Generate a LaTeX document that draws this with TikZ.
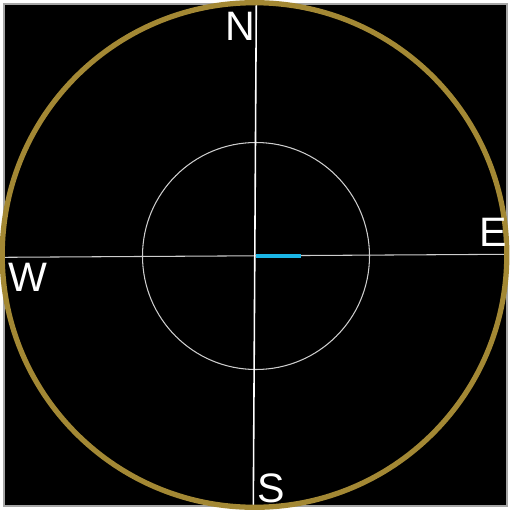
\documentclass[tikz,border=0pt]{standalone}
\usepackage{fontspec}
\setmainfont{Liberation Sans}
\usepackage{xcolor}
\usetikzlibrary{calc, positioning}
\definecolor{DialGold}{RGB}{163, 136, 52}
\definecolor{DialBlue}{RGB}{27, 182, 230}
\definecolor{DialGrey}{RGB}{205, 205, 205}

\begin{document}
\begin{tikzpicture}[x=0.01cm, y=-0.01cm,
    every node/.style={font=\fontsize{11.7}{14}\selectfont, text=white, inner sep=0pt}]
          \useasboundingbox (0,0) rectangle (512,512);
          \fill[black, draw=gray!70, line width=0.3pt] (4,4) rectangle (507,506);
          \coordinate (top) at (256.3,4);
          \coordinate (bottom) at (253.3,507);
          \coordinate (left) at (4,257.3);
          \coordinate (right) at (506,254.3);
          \coordinate (centre) at (256,256);
          \coordinate (needle) at (301,256);
          \draw[DialGrey, line width=0.3pt] (centre) circle[radius=113.5];
          \draw[DialGrey, line width=0.3pt] (left) -- (right);
          \draw[white, line width=0.45pt] (top) -- (bottom);
          \draw[DialBlue, line width=1.15pt] (centre) -- (needle);
          \draw[DialGold, line width=1.5pt] (254.5,255) circle[radius=252.3];
          \node (n) at (240,26) {N};
          \node (s) at (271.5,488.5) {S};
          \node (w) at (27.5,277) {W};
          \node (e) at (493.5,232) {E};
        \end{tikzpicture}
\end{document}
